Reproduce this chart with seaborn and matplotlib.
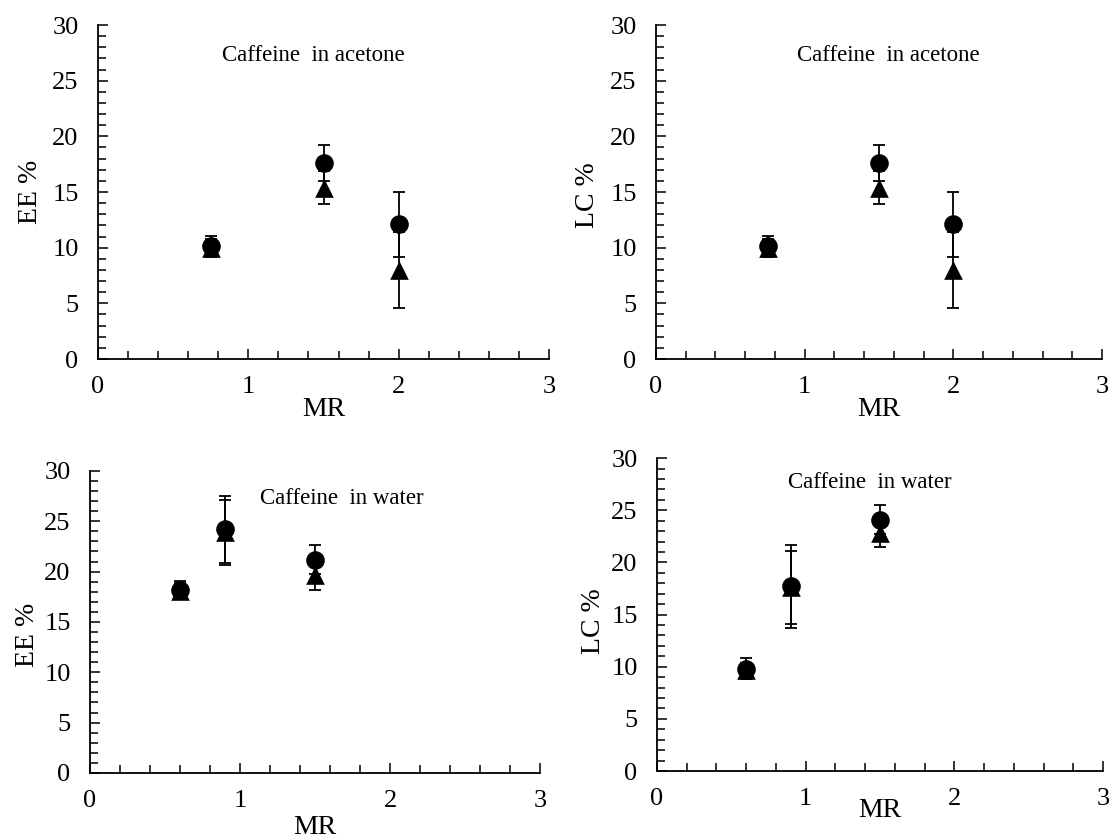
import matplotlib
matplotlib.use("Agg")
import matplotlib.pyplot as plt
import seaborn as sns
import pandas as pd
from matplotlib.ticker import MultipleLocator

sns.set_style("ticks")
plt.rcParams['font.family'] = ['Liberation Serif', 'DejaVu Serif']
plt.rcParams['text.color'] = 'black'
plt.rcParams['axes.labelcolor'] = 'black'
plt.rcParams['xtick.color'] = 'black'
plt.rcParams['ytick.color'] = 'black'

# ---- data ----
mr_acetone = [0.75, 1.5, 2.0]
ee_acetone_circle = [10.15, 17.6, 12.1]
ee_acetone_circle_err = [0.9, 1.6, 2.9]
ee_acetone_tri = [10.0, 15.4, 8.0]
ee_acetone_tri_err = [0.8, 1.5, 3.4]

lc_acetone_circle = [10.15, 17.6, 12.1]
lc_acetone_circle_err = [0.9, 1.6, 2.9]
lc_acetone_tri = [10.0, 15.4, 8.0]
lc_acetone_tri_err = [0.8, 1.5, 3.4]

mr_water = [0.6, 0.9, 1.5]
ee_water_circle = [18.2, 24.2, 21.2]
ee_water_circle_err = [0.9, 3.3, 1.4]
ee_water_tri = [18.1, 23.9, 19.7]
ee_water_tri_err = [0.8, 3.2, 1.5]

lc_water_circle = [9.8, 17.7, 24.1]
lc_water_circle_err = [1.0, 4.0, 1.4]
lc_water_tri = [9.7, 17.6, 22.8]
lc_water_tri_err = [0.7, 3.5, 1.3]

fig = plt.figure(figsize=(11.1, 8.39), dpi=100)

panels = [
    # rect, x, circ, circ_err, tri, tri_err, ylabel, title, title_xy, xlabel_y, ylabel_xy
    ([0.0883, 0.5721, 0.4063, 0.3981], mr_acetone, ee_acetone_circle, ee_acetone_circle_err,
     ee_acetone_tri, ee_acetone_tri_err, "EE %", "Caffeine  in acetone", (1.43, 27.3), -0.115, (-0.122, 0.5)),
    ([0.5910, 0.5721, 0.4018, 0.3981], mr_acetone, lc_acetone_circle, lc_acetone_circle_err,
     lc_acetone_tri, lc_acetone_tri_err, "LC %", "Caffeine  in acetone", (1.56, 27.3), -0.115, (-0.126, 0.49)),
    ([0.0811, 0.0787, 0.4054, 0.3600], mr_water, ee_water_circle, ee_water_circle_err,
     ee_water_tri, ee_water_tri_err, "EE %", "Caffeine  in water", (1.68, 27.3), -0.14, (-0.111, 0.457)),
    ([0.5919, 0.0810, 0.4018, 0.3730], mr_water, lc_water_circle, lc_water_circle_err,
     lc_water_tri, lc_water_tri_err, "LC %", "Caffeine  in water", (1.43, 27.7), -0.086, (-0.114, 0.48)),
]

for rect, x, c, ce, t, te, ylab, title, txy, xly, yl_xy in panels:
    ax = fig.add_axes(rect)
    ax.errorbar(x, t, yerr=te, fmt='none', ecolor='black', elinewidth=1.3,
                capsize=4, capthick=1.3, zorder=2)
    ax.errorbar(x, c, yerr=ce, fmt='none', ecolor='black', elinewidth=1.3,
                capsize=4, capthick=1.3, zorder=2)
    df_t = pd.DataFrame({"MR": x, "val": t})
    df_c = pd.DataFrame({"MR": x, "val": c})
    sns.scatterplot(data=df_t, x="MR", y="val", marker="^", s=180, color="black",
                    edgecolor="black", linewidth=0, ax=ax, zorder=3)
    sns.scatterplot(data=df_c, x="MR", y="val", marker="o", s=180, color="black",
                    edgecolor="black", linewidth=0, ax=ax, zorder=4)
    ax.set_xlim(0, 3)
    ax.set_ylim(0, 30)
    ax.xaxis.set_major_locator(MultipleLocator(1))
    ax.xaxis.set_minor_locator(MultipleLocator(0.2))
    ax.yaxis.set_major_locator(MultipleLocator(5))
    ax.yaxis.set_minor_locator(MultipleLocator(1))
    ax.tick_params(axis='both', which='both', direction='in', color='black',
                   width=1.1, labelsize=19, labelcolor='black')
    ax.tick_params(axis='x', which='both', bottom=True, top=False)
    ax.tick_params(axis='y', which='both', left=True, right=False)
    ax.tick_params(axis='x', which='major', length=7, pad=12)
    ax.tick_params(axis='x', which='minor', length=6)
    ax.tick_params(axis='y', which='major', length=7, pad=14)
    ax.tick_params(axis='y', which='minor', length=6)
    for side in ['top', 'right']:
        ax.spines[side].set_visible(False)
    for side in ['left', 'bottom']:
        ax.spines[side].set_color('black')
        ax.spines[side].set_linewidth(1.3)
    ax.set_xlabel("MR", fontsize=20)
    ax.set_ylabel(ylab, fontsize=20)
    ax.xaxis.set_label_coords(0.5, xly)
    ax.yaxis.set_label_coords(*yl_xy)
    ax.text(txy[0], txy[1], title, ha='center', va='center', fontsize=16.5)
    ax.patch.set_alpha(0)

fig.savefig("out.png", dpi=100, facecolor='white')
